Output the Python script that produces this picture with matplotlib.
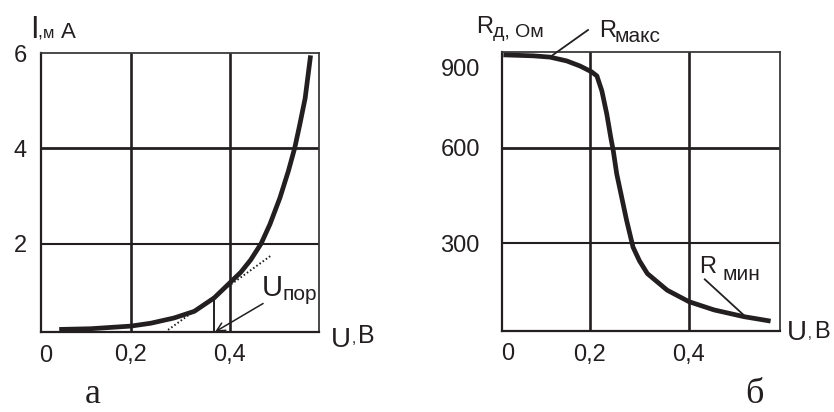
import matplotlib
matplotlib.use("Agg")
import matplotlib.pyplot as plt
from matplotlib.transforms import ScaledTranslation

# --- data -------------------------------------------------------------
# (а) forward I-V characteristic of the diode
u_iv = [0.055, 0.119, 0.200, 0.240, 0.287, 0.328, 0.368, 0.401,
        0.422, 0.442, 0.463, 0.481, 0.501, 0.518, 0.531, 0.541,
        0.552, 0.558, 0.563]
i_iv = [0.20, 0.215, 0.27, 0.33, 0.44, 0.58, 0.86, 1.19,
        1.40, 1.66, 2.00, 2.41, 2.96, 3.52, 4.01, 4.49,
        5.05, 5.54, 5.95]

# tangent used to find the threshold voltage
u_tan = [0.275, 0.483]
i_tan = [0.19, 1.75]
u_thr = 0.368          # U_пор
i_thr = 0.86           # current on the curve at U_пор

# (б) differential resistance vs voltage
u_rd = [0.025, 0.085, 0.119, 0.153, 0.180, 0.203, 0.214, 0.224, 0.234,
        0.242, 0.247, 0.254, 0.264, 0.274, 0.287, 0.300, 0.316, 0.356,
        0.400, 0.451, 0.511, 0.565]
r_rd = [891, 888, 884, 872, 856, 838, 825, 778, 705,
        632, 591, 518, 445, 372, 288, 245, 205, 153,
        117, 91, 70, 56]

x_ticks = [0.2, 0.4]
x_labels = ["0", "0,2", "0,4"]
i_ticks = [2, 4, 6]
i_labels = ["2", "4", "6"]
r_ticks = [300, 600, 900]
r_labels = ["300", "600", "900"]

# --- style -------------------------------------------------------------
SANS = "Liberation Sans"
SERIF = "Liberation Serif"
INK = "#231f20"
W, H = 834, 412

fig = plt.figure(figsize=(W / 100, H / 100), dpi=100)


def px_axes(left, top, right, bottom):
    return fig.add_axes([left / W, 1 - bottom / H, (right - left) / W, (bottom - top) / H])


def ftext(x, y, s, size, family=SANS, **kw):
    fig.text(x / W, 1 - y / H, s, fontsize=size, family=family, color=INK,
             ha="left", va="baseline", **kw)


def shift(label, dx_px, dy_px):
    label.set_transform(label.get_transform() +
                        ScaledTranslation(dx_px / 100, dy_px / 100, fig.dpi_scale_trans))


def style_axes(ax, xlim, ylim, yticks, ylabels, hgrid_lw):
    ax.set_xlim(*xlim)
    ax.set_ylim(*ylim)
    for s in ax.spines.values():
        s.set_color("#3a3a3a")
        s.set_linewidth(1.3)
    ax.spines["left"].set_color(INK)
    ax.spines["left"].set_linewidth(1.6)
    ax.spines["bottom"].set_color(INK)
    ax.spines["bottom"].set_linewidth(1.6)
    for xv in x_ticks:
        ax.axvline(xv, color=INK, lw=1.9, zorder=1)
    for yv, lw in zip(yticks[:-1], hgrid_lw):
        ax.axhline(yv, color=INK, lw=lw, zorder=1)
    ax.set_xticks([xlim[0]] + x_ticks)
    ax.set_xticklabels(x_labels, fontsize=17, family=SANS, color=INK)
    ax.set_yticks(yticks)
    ax.set_yticklabels(ylabels, fontsize=17, family=SANS, color=INK)
    ax.tick_params(length=0)
    ax.tick_params(axis="x", pad=9)


# --- panel а ----------------------------------------------------------
ax1 = px_axes(41, 53, 319, 332)
style_axes(ax1, (0.0182, 0.58), (0.146, 5.958), i_ticks, i_labels, [1.5, 2.0])
ax1.tick_params(axis="y", pad=10)
shift(ax1.get_xticklabels()[0], 5, 0)
ax1.plot(u_iv, i_iv, color=INK, lw=3.4, solid_capstyle="butt",
         solid_joinstyle="round", zorder=3)
ax1.plot(u_tan, i_tan, color=INK, lw=1.4, ls=(0, (0.8, 1.2)), zorder=2)
ax1.plot([u_thr, u_thr], [0.146, i_thr], color=INK, lw=1.4, zorder=2)
ax1.annotate("", xy=(0.370, 0.15), xytext=(0.467, 0.744),
             arrowprops=dict(arrowstyle="->,head_length=0.6,head_width=0.3",
                             color=INK, lw=1.1, shrinkA=0, shrinkB=0),
             annotation_clip=False, zorder=4)

ftext(30, 38, "I", 22)
ftext(37, 38, ",", 13)
ftext(43, 38, "м", 12)
ftext(61, 38, "А", 16)
ftext(262, 296, "U", 21)
ftext(283, 300, "пор", 15)
ftext(331, 347, "U", 20)
ftext(352, 343, ",", 11)
ftext(358, 343, "В", 18)
ftext(85, 403, "а", 26, family=SERIF)

# --- panel б ----------------------------------------------------------
ax2 = px_axes(502, 52, 780, 331)
style_axes(ax2, (0.0222, 0.584), (25, 897), r_ticks, r_labels, [1.5, 2.0])
ax2.tick_params(axis="y", pad=16)
shift(ax2.get_xticklabels()[0], 6, 0)
# the top label sits a little below the frame corner
shift(ax2.get_yticklabels()[-1], 0, -15)
ax2.plot(u_rd, r_rd, color=INK, lw=3.4, solid_capstyle="butt",
         solid_joinstyle="round", zorder=3)

# leader lines to the extreme values
ax2.plot([0.119, 0.196], [884, 969], color=INK, lw=1.3, clip_on=False, zorder=4)
ax2.plot([0.432, 0.517], [187, 66], color=INK, lw=1.3, zorder=4)

ftext(476, 33, "R", 17)
ftext(493, 37, "д, Ом", 14)
ftext(599, 37, "R", 17)
ftext(615, 42, "макс", 15)
ftext(699, 273, "R", 17)
ftext(722, 280, "мин", 15)
ftext(787, 340, "U", 20)
ftext(808, 338, ",", 10)
ftext(814, 338, "В", 17)
ftext(745, 403, "б", 26, family=SERIF)

fig.savefig("out.png", dpi=100)
